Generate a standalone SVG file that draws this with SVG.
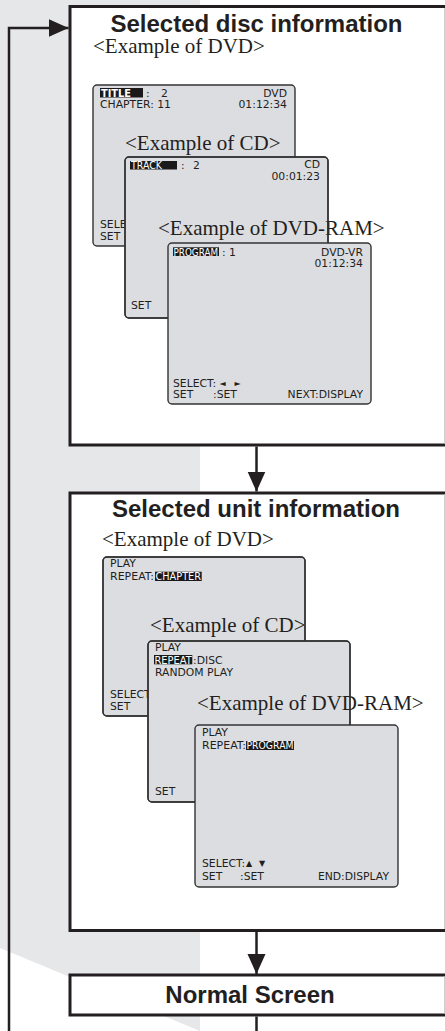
<svg xmlns="http://www.w3.org/2000/svg" width="445" height="1031" viewBox="0 0 445 1031">
<style>
.bg{fill:#e6e7e8}
.box{fill:#fff}
.edge{fill:none;stroke:#231f20;stroke-width:3}
.redge{stroke:#cfcfcf;stroke-width:1}
.title{font-family:"Liberation Sans",Arial,sans-serif;font-weight:bold;font-size:24px;fill:#231f20;text-anchor:middle}
.lbl{font-family:"Liberation Serif","Times New Roman",serif;font-size:21px;fill:#231f20}
.scr{fill:#dcdde0;stroke:#333;stroke-width:1.4}
.scrb{fill:none;stroke:#333;stroke-width:1.4}
.t{font-family:"DejaVu Sans",sans-serif;font-size:10.8px;fill:#231f20}
.r{text-anchor:end}
.hl{fill:#1a1a1a}
.w{fill:#fff}
.sym{font-family:"DejaVu Sans",sans-serif;font-size:8px;fill:#231f20}
.conn{fill:none;stroke:#231f20;stroke-width:2.5}
</style>
<defs>
<marker id="ah" markerUnits="userSpaceOnUse" markerWidth="20" markerHeight="20" viewBox="0 0 20 20" refX="20" refY="10" orient="auto"><path d="M0,1 L20,10 L0,19 Z" fill="#231f20"/></marker>
</defs>
<polygon class="bg" points="0,0 200,0 200,1031 0,948"/>

<g id="box-disc">
<rect class="box" x="70" y="6.5" width="380" height="438.5"/>
<path class="edge" d="M446,6.5 H70 V445 H446"/>
<line class="redge" x1="444.5" y1="8" x2="444.5" y2="443.5"/>
<text class="title" x="256.5" y="31.5">Selected disc information</text>
<text class="lbl" x="93" y="53">&lt;Example of DVD&gt;</text>
<g id="scr-dvd">
<rect class="scr" x="93" y="85" width="202" height="161" rx="4"/>
<rect class="hl" x="100" y="88" width="43" height="9.5"/>
<text class="t w" x="101" y="96.5" font-weight="bold" textLength="30" lengthAdjust="spacingAndGlyphs">TITLE</text>
<text class="t" x="146" y="96.5">:</text>
<text class="t" x="161" y="96.5">2</text>
<text class="t r" x="287" y="96.5">DVD</text>
<text class="t" x="100" y="108">CHAPTER: 11</text>
<text class="t r" x="287" y="108">01:12:34</text>
<text class="t" x="100" y="228">SELE</text>
<text class="t" x="100" y="239.5">SET</text>
</g>
<text class="lbl" x="125" y="150">&lt;Example of CD&gt;</text>
<g id="scr-cd">
<rect class="scr" x="125" y="157" width="203" height="161" rx="4"/>
<rect class="hl" x="130" y="161" width="47" height="8.5"/>
<text class="t w" x="131" y="168.5" textLength="31" lengthAdjust="spacingAndGlyphs">TRACK</text>
<text class="t" x="181" y="168.5">:</text>
<text class="t" x="193" y="168.5">2</text>
<text class="t r" x="320" y="168">CD</text>
<text class="t r" x="320" y="180">00:01:23</text>
<text class="t" x="131" y="309">SET</text>
</g>
<text class="lbl" x="158" y="235">&lt;Example of DVD-RAM&gt;</text>
<rect class="scrb" x="125" y="157" width="203" height="161" rx="4"/>
<g id="scr-dvdram">
<rect class="scr" x="168" y="243" width="203" height="161" rx="4"/>
<rect class="hl" x="173" y="247.3" width="46" height="8.7"/>
<text class="t w" x="173.5" y="255.5" textLength="44.5" lengthAdjust="spacingAndGlyphs">PROGRAM</text>
<text class="t" x="222" y="255.5">: 1</text>
<text class="t r" x="363" y="256">DVD-VR</text>
<text class="t r" x="363" y="267">01:12:34</text>
<text class="t" x="173" y="386.7">SELECT:</text>
<text class="sym" x="219.5" y="386">◄</text>
<text class="sym" x="234.5" y="386">►</text>
<text class="t" x="173" y="397.7">SET</text>
<text class="t" x="213" y="397.7">:SET</text>
<text class="t r" x="363" y="397.7">NEXT:DISPLAY</text>
</g>
</g>

<g id="box-unit">
<rect class="box" x="70" y="493" width="380" height="437.5"/>
<path class="edge" d="M446,493 H70 V930.5 H446"/>
<line class="redge" x1="444.5" y1="494.5" x2="444.5" y2="929"/>
<text class="title" x="256" y="517">Selected unit information</text>
<text class="lbl" x="102" y="546">&lt;Example of DVD&gt;</text>
<g id="scr-unit-dvd">
<rect class="scr" x="103" y="557" width="202" height="159" rx="4"/>
<text class="t" x="110" y="566.7">PLAY</text>
<text class="t" x="110" y="580" textLength="44" lengthAdjust="spacingAndGlyphs">REPEAT:</text>
<rect class="hl" x="155" y="571.7" width="46.7" height="9.3"/>
<text class="t w" x="155.5" y="580" textLength="45.5" lengthAdjust="spacingAndGlyphs">CHAPTER</text>
<text class="t" x="110" y="698">SELECT</text>
<text class="t" x="110" y="709.5">SET</text>
</g>
<text class="lbl" x="150" y="631.7">&lt;Example of CD&gt;</text>
<rect class="scrb" x="103" y="557" width="202" height="159" rx="4"/>
<g id="scr-unit-cd">
<rect class="scr" x="148" y="641" width="202" height="161" rx="4"/>
<text class="t" x="155" y="651">PLAY</text>
<rect class="hl" x="154" y="655" width="38.3" height="9.3"/>
<text class="t w" x="154.5" y="663.5" textLength="37.3" lengthAdjust="spacingAndGlyphs">REPEAT</text>
<text class="t" x="193" y="663.5">:DISC</text>
<text class="t" x="155" y="676">RANDOM PLAY</text>
<text class="t" x="155" y="795">SET</text>
</g>
<text class="lbl" x="197" y="709.5">&lt;Example of DVD-RAM&gt;</text>
<rect class="scrb" x="148" y="641" width="202" height="161" rx="4"/>
<g id="scr-unit-dvdram">
<rect class="scr" x="195" y="725" width="203" height="162" rx="4"/>
<text class="t" x="202" y="736">PLAY</text>
<text class="t" x="202" y="748.5" textLength="44" lengthAdjust="spacingAndGlyphs">REPEAT:</text>
<rect class="hl" x="246" y="741" width="48" height="9"/>
<text class="t w" x="246.5" y="749" textLength="47" lengthAdjust="spacingAndGlyphs">PROGRAM</text>
<text class="t" x="202" y="866.7">SELECT:</text>
<text class="sym" x="246" y="866">▲</text>
<text class="sym" x="259" y="866">▼</text>
<text class="t" x="202" y="880">SET</text>
<text class="t" x="240" y="880">:SET</text>
<text class="t r" x="389" y="880">END:DISPLAY</text>
</g>
</g>

<g id="box-normal">
<rect class="box" x="70" y="975" width="380" height="40"/>
<path class="edge" d="M446,975 H70 V1015 H446"/>
<line class="redge" x1="444.5" y1="976.5" x2="444.5" y2="1013.5"/>
<text class="title" x="250" y="1003">Normal Screen</text>
</g>

<g id="connectors">
<path class="conn" d="M256.5,446.5 V491.5" marker-end="url(#ah)"/>
<path class="conn" d="M256.5,932 V974" marker-end="url(#ah)"/>
<path class="conn" d="M256.5,1016.5 V1031"/>
<path class="conn" d="M9,1031 V28 H68.5" marker-end="url(#ah)"/>
</g>
</svg>
